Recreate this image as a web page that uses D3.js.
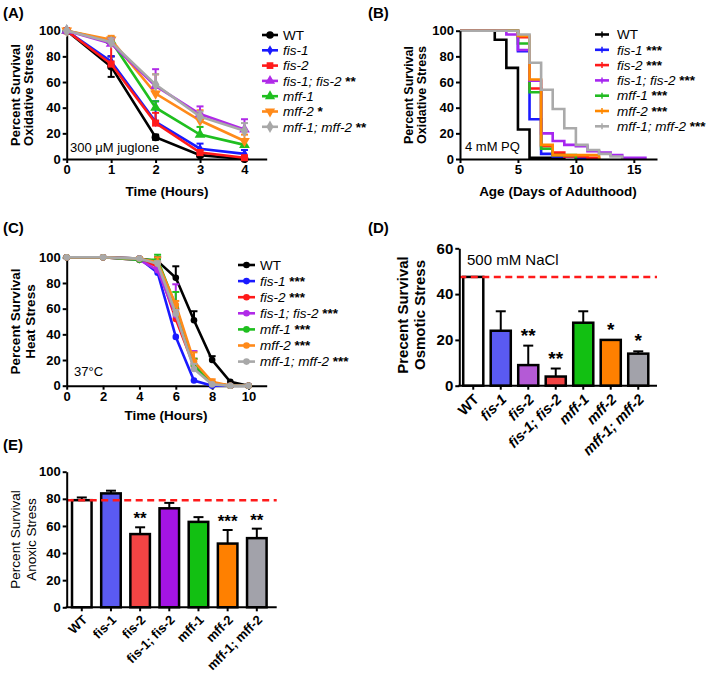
<!DOCTYPE html>
<html><head><meta charset="utf-8">
<script src="https://cdn.jsdelivr.net/npm/d3@7"></script>
<style>body{margin:0;background:#fff}svg text{font-family:"Liberation Sans",Arial,sans-serif;fill:#000}</style>
</head><body><svg id="c" width="709" height="677"></svg>
<script>
// ---------- data ----------
const genotypes = ["WT","fis-1","fis-2","fis-1; fis-2","mff-1","mff-2","mff-1; mff-2"];
// (A) juglone, time in hours
const aTimes = [0,1,2,3,4];
const aWT    = [100,72,17,3,0];      const aWTErr    = [0,8,2,1,0];
const aFis1  = [100,76,29,8,4];      const aFis1Err  = [0,4,16,4,3];
const aFis2  = [100,74,28,5,1];      const aFis2Err  = [0,19,8,2,1];
const aFis12 = [100,90,57,35,23];    const aFis12Err = [0,4,13,6,8];
const aMff1  = [100,92,40,19,11];    const aMff1Err  = [0,3,5,6,4];
const aMff2  = [100,93,51,30,14];    const aMff2Err  = [0,3,15,8,5];
const aMff12 = [100,91,58,33,22];    const aMff12Err = [0,3,8,4,6];
const aSig = ["","","","**","","*","**"];
// (B) paraquat survival curves: [day, percent alive]
const bWT    = [[0,100],[3,93],[4,71],[5,23],[6,1],[9,0]];
const bFis1  = [[0,100],[5,84],[6,31],[7,4],[8,2],[10,1],[11,0]];
const bFis2  = [[0,100],[5,95],[6,55],[7,10],[8,5],[9,2],[11,1],[12,0]];
const bFis12 = [[0,100],[4,97],[5,85],[6,61],[7,20],[8,14],[9,11],[10,10],[11,6],[12,5],[13,3],[14,1],[16,0]];
const bMff1  = [[0,100],[5,90],[6,52],[7,8],[8,3],[10,0]];
const bMff2  = [[0,100],[5,96],[6,62],[7,11],[8,3],[12,0]];
const bMff12 = [[0,100],[5,97],[6,75],[7,54],[8,39],[9,24],[10,11],[11,7],[12,4],[13,2],[14,0]];
const bSig = ["","***","***","***","***","***","***"];
// (C) heat 37C, time in hours
const cTimes = [0,2,4,5,6,7,8,9,10];
const cWT    = [100,100,99,97,84,51,20,3,0];  const cWTErr    = [0,0,0,3,9,7,3,0,0];
const cFis1  = [100,100,99,88,38,4,0,0,0];    const cFis1Err  = [0,0,0,2,0,0,0,0,0];
const cFis2  = [100,100,98,93,52,15,2,0,0];   const cFis2Err  = [0,0,0,3,8,6,1,0,0];
const cFis12 = [100,100,98,90,55,17,2,0,0];   const cFis12Err = [0,0,1,2,24,10,1,0,0];
const cMff1  = [100,100,98,98,62,16,2,0,0];   const cMff1Err  = [0,0,1,4,11,5,1,0,0];
const cMff2  = [100,100,99,96,63,19,3,0,0];   const cMff2Err  = [0,0,1,4,3,7,2,0,0];
const cMff12 = [100,100,99,95,56,13,1,0,0];   const cMff12Err = [0,0,0,2,3,4,0,0,0];
const cSig = ["","***","***","***","***","***","***"];
// (D) osmotic stress
const dVals = [47.5,24,9,4,27.5,20,14];
const dErr  = [0,8.5,8.5,3.5,5,0,1];
const dSig  = ["","","**","**","","*","*"];
const dRef  = 47.5;
// (E) anoxic stress
const eVals = [79,84,54,73,63,47,51];
const eErr  = [2,2,5,4,3.5,10,7];
const eSig  = ["","","**","","","***","**"];
const eRef  = 79;
const aTicksY = [0,20,40,60,80,100];
const bTicksX = [0,5,10,15];
const cTicksX = [0,2,4,6,8,10];
const dTicksY = [0,20,40,60];

// ---------- styles ----------
const lineColors = ["#000000","#1a1aff","#ff1a1a","#b02ae8","#1fbf1f","#ff8a1a","#a8a8a8"];
const bColors    = ["#000000","#1a1aff","#ff1a1a","#a626f0","#22bb22","#ff8800","#aaaaaa"];
const dColors    = ["#ffffff","#5a5af2","#b45ad6","#f24444","#12c012","#ff8000","#a2a2aa"];
const eColors    = ["#ffffff","#5a5af2","#f24444","#a414e4","#12c012","#ff8000","#a2a2aa"];
const symTypes = [d3.symbolCircle,d3.symbolDiamond,d3.symbolSquare,d3.symbolTriangle,d3.symbolTriangle,d3.symbolTriangle,d3.symbolDiamond];
const symRot = [0,0,0,0,0,180,0];

const svg = d3.select("#c");
const F = '"Liberation Sans",Arial,sans-serif';
const fmt = d3.format("d");

function styleAxis(g, fs, weight) {
  g.selectAll(".domain").attr("stroke","#000").attr("stroke-width",2);
  g.selectAll(".tick line").attr("stroke","#000").attr("stroke-width",2);
  g.selectAll(".tick text").attr("font-size",fs).attr("font-weight",weight||"bold").attr("font-family",F).attr("fill","#000");
}
function yTitle(lines, xs, cy, fs, weight) {
  lines.forEach((t,i)=>{
    svg.append("text").attr("transform",`translate(${xs[i]},${cy}) rotate(-90)`)
      .attr("text-anchor","middle").attr("font-size",fs).attr("font-weight",weight).text(t);
  });
}
function panelLabel(t,x,y){svg.append("text").attr("x",x).attr("y",y).attr("font-size",15).attr("font-weight","bold").text(t);}
function legendText(g, name, sig, x, y, fs) {
  const t = g.append("text").attr("x",x).attr("y",y).attr("dy","0.35em").attr("font-size",fs);
  t.append("tspan").attr("font-style", name==="WT"?"normal":"italic").text(name);
  if (sig) t.append("tspan").attr("font-weight","bold").text(" "+sig);
}

// ---------- (A) ----------
(function(){
  const x = d3.scaleLinear().domain([0,4.5]).range([66.7,266.7]);
  const y = d3.scaleLinear().domain([0,100]).range([159,30.7]);
  const gx = svg.append("g").attr("transform","translate(0,159)")
    .call(d3.axisBottom(x).tickValues(aTimes).tickFormat(fmt).tickSize(4).tickSizeOuter(0).tickPadding(2));
  styleAxis(gx,13);
  const gy = svg.append("g").attr("transform","translate(66.7,0)")
    .call(d3.axisLeft(y).tickValues(aTicksY).tickFormat(fmt).tickSize(4).tickSizeOuter(0).tickPadding(2));
  styleAxis(gy,13);
  const vals=[aWT,aFis1,aFis2,aFis12,aMff1,aMff2,aMff12];
  const errs=[aWTErr,aFis1Err,aFis2Err,aFis12Err,aMff1Err,aMff2Err,aMff12Err];
  const order=[0,1,2,4,5,3,6];
  const line=d3.line().x(d=>x(d[0])).y(d=>y(d[1]));
  order.forEach(i=>{
    const g=svg.append("g");
    const pts=aTimes.map((t,j)=>[t,vals[i][j],errs[i][j]]);
    pts.forEach(p=>{ if(p[2]>0){
      const lo = i===0 ? p[1]-p[2] : p[1];
      g.append("line").attr("x1",x(p[0])).attr("x2",x(p[0])).attr("y1",y(lo)).attr("y2",y(p[1]+p[2])).attr("stroke",lineColors[i]).attr("stroke-width",2);
      const caps = i===0 ? [p[1]+p[2],p[1]-p[2]] : [p[1]+p[2]];
      caps.forEach(v=>g.append("line").attr("x1",x(p[0])-3.5).attr("x2",x(p[0])+3.5).attr("y1",y(v)).attr("y2",y(v)).attr("stroke",lineColors[i]).attr("stroke-width",2));
    }});
    g.append("path").attr("d",line(pts)).attr("fill","none").attr("stroke",lineColors[i]).attr("stroke-width",2.6);
    pts.forEach(p=>g.append("path").attr("d",d3.symbol().type(symTypes[i]).size(i===1?30:50)())
      .attr("transform",`translate(${x(p[0])},${y(p[1])}) rotate(${symRot[i]})`).attr("fill",lineColors[i]));
  });
  svg.append("text").attr("x",70).attr("y",152).attr("font-size",13).text("300 \u03BCM juglone");
  svg.append("text").attr("x",167).attr("y",196).attr("text-anchor","middle").attr("font-size",13.5).attr("font-weight","bold").text("Time (Hours)");
  yTitle(["Percent Survival","Oxidative Stress"],[20,33],95,13,"bold");
  const lg=svg.append("g");
  genotypes.forEach((n,i)=>{
    const yy=35+i*15.3;
    lg.append("line").attr("x1",262).attr("x2",278).attr("y1",yy).attr("y2",yy).attr("stroke",lineColors[i]).attr("stroke-width",2.6);
    lg.append("path").attr("d",d3.symbol().type(symTypes[i]).size(i===1?30:45)()).attr("transform",`translate(270,${yy}) rotate(${symRot[i]})`).attr("fill",lineColors[i]);
    legendText(lg,n,aSig[i],283,yy,13.5);
  });
  panelLabel("(A)",3,18);
})();

// ---------- (B) ----------
(function(){
  const x = d3.scaleLinear().domain([0,17]).range([460,657]);
  const y = d3.scaleLinear().domain([0,100]).range([159,30.7]);
  const curves=[bWT,bFis1,bFis2,bFis12,bMff1,bMff2,bMff12];
  const line=d3.line().x(d=>x(d[0])).y(d=>y(d[1])).curve(d3.curveStepAfter);
  [0,1,2,4,3,5,6].forEach(i=>{
    svg.append("path").attr("d",line(curves[i])).attr("fill","none").attr("stroke",bColors[i]).attr("stroke-width",2.6);
  });
  const gx = svg.append("g").attr("transform","translate(0,159)")
    .call(d3.axisBottom(x).tickValues(bTicksX).tickFormat(fmt).tickSize(4).tickSizeOuter(0).tickPadding(2));
  styleAxis(gx,13);
  const gy = svg.append("g").attr("transform","translate(460,0)")
    .call(d3.axisLeft(y).tickValues(aTicksY).tickFormat(fmt).tickSize(4).tickSizeOuter(0).tickPadding(2));
  styleAxis(gy,13);
  svg.append("text").attr("x",465).attr("y",151).attr("font-size",13).text("4 mM PQ");
  svg.append("text").attr("x",558).attr("y",196).attr("text-anchor","middle").attr("font-size",13.5).attr("font-weight","bold").text("Age (Days of Adulthood)");
  yTitle(["Percent Survival","Oxidative Stress"],[413,426],95,12.5,"bold");
  const lg=svg.append("g");
  genotypes.forEach((n,i)=>{
    const yy=34.5+i*15.3;
    lg.append("line").attr("x1",595).attr("x2",609).attr("y1",yy).attr("y2",yy).attr("stroke",bColors[i]).attr("stroke-width",2.6);
    lg.append("line").attr("x1",602).attr("x2",602).attr("y1",yy-3).attr("y2",yy+3).attr("stroke",bColors[i]).attr("stroke-width",1.5);
    legendText(lg,n,bSig[i],617,yy,13.5);
  });
  panelLabel("(B)",368,18);
})();

// ---------- (C) ----------
(function(){
  const x = d3.scaleLinear().domain([0,11]).range([66.7,266.7]);
  const y = d3.scaleLinear().domain([0,100]).range([385.7,257.3]);
  const gx = svg.append("g").attr("transform","translate(0,385.7)")
    .call(d3.axisBottom(x).tickValues(cTicksX).tickFormat(fmt).tickSize(4).tickSizeOuter(0).tickPadding(2));
  styleAxis(gx,13);
  const gy = svg.append("g").attr("transform","translate(66.7,0)")
    .call(d3.axisLeft(y).tickValues(aTicksY).tickFormat(fmt).tickSize(4).tickSizeOuter(0).tickPadding(2));
  styleAxis(gy,13);
  const vals=[cWT,cFis1,cFis2,cFis12,cMff1,cMff2,cMff12];
  const errs=[cWTErr,cFis1Err,cFis2Err,cFis12Err,cMff1Err,cMff2Err,cMff12Err];
  const line=d3.line().x(d=>x(d[0])).y(d=>y(d[1]));
  [0,1,2,3,4,5,6].forEach(i=>{
    const g=svg.append("g");
    const pts=cTimes.map((t,j)=>[t,vals[i][j],errs[i][j]]);
    pts.forEach(p=>{ if(p[2]>0){
      g.append("line").attr("x1",x(p[0])).attr("x2",x(p[0])).attr("y1",y(p[1])).attr("y2",y(p[1]+p[2])).attr("stroke",lineColors[i]).attr("stroke-width",2);
      g.append("line").attr("x1",x(p[0])-3.5).attr("x2",x(p[0])+3.5).attr("y1",y(p[1]+p[2])).attr("y2",y(p[1]+p[2])).attr("stroke",lineColors[i]).attr("stroke-width",2);
    }});
    g.append("path").attr("d",line(pts)).attr("fill","none").attr("stroke",lineColors[i]).attr("stroke-width",2.6);
    pts.forEach(p=>g.append("circle").attr("cx",x(p[0])).attr("cy",y(p[1])).attr("r",3.3).attr("fill",lineColors[i]));
  });
  svg.append("text").attr("x",74).attr("y",376).attr("font-size",13).text("37\u00B0C");
  svg.append("text").attr("x",166).attr("y",420).attr("text-anchor","middle").attr("font-size",13.5).attr("font-weight","bold").text("Time (Hours)");
  yTitle(["Percent Survival","Heat Stress"],[20,35],321.5,13.5,"bold");
  const lg=svg.append("g");
  genotypes.forEach((n,i)=>{
    const yy=265+i*16.1;
    lg.append("line").attr("x1",238).attr("x2",255).attr("y1",yy).attr("y2",yy).attr("stroke",lineColors[i]).attr("stroke-width",2.6);
    lg.append("circle").attr("cx",246.5).attr("cy",yy).attr("r",3.3).attr("fill",lineColors[i]);
    legendText(lg,n,cSig[i],260,yy,13.5);
  });
  panelLabel("(C)",3,233);
})();

// ---------- bar panels ----------
function barPanel(o){
  const x = d3.scaleBand().domain(genotypes).range(o.xr).paddingInner(o.pin).paddingOuter(o.pin/2);
  const y = d3.scaleLinear().domain(o.yd).range(o.yr);
  const g = svg.append("g");
  genotypes.forEach((n,i)=>{
    const cx = x(n)+x.bandwidth()/2;
    if (o.err[i]>0){
      g.append("line").attr("x1",cx).attr("x2",cx).attr("y1",y(o.vals[i])).attr("y2",y(o.vals[i]+o.err[i])).attr("stroke","#000").attr("stroke-width",2);
      g.append("line").attr("x1",cx-5).attr("x2",cx+5).attr("y1",y(o.vals[i]+o.err[i])).attr("y2",y(o.vals[i]+o.err[i])).attr("stroke","#000").attr("stroke-width",2);
    }
    g.append("rect").attr("x",x(n)).attr("y",y(o.vals[i])).attr("width",x.bandwidth()).attr("height",y(0)-y(o.vals[i]))
      .attr("fill",o.colors[i]).attr("stroke","#000").attr("stroke-width",2.5);
    if (o.sig[i]) g.append("text").attr("x",cx).attr("y",y(o.vals[i]+o.err[i])-o.sigGap).attr("text-anchor","middle")
      .attr("font-size",o.sigFs).attr("font-weight","bold").text(o.sig[i]);
  });
  svg.append("line").attr("x1",o.xLine[0]).attr("x2",o.xLine[1]).attr("y1",y(o.ref)).attr("y2",y(o.ref))
    .attr("stroke","#ff1a1a").attr("stroke-width",2.5).attr("stroke-dasharray","7,4.5");
  const gx = svg.append("g").attr("transform",`translate(0,${o.yr[0]})`)
    .call(d3.axisBottom(x).tickSize(4).tickSizeOuter(0).tickFormat(""));
  gx.select(".domain").remove();
  gx.selectAll(".tick line").attr("stroke","#000").attr("stroke-width",2);
  svg.append("line").attr("x1",o.xLine[0]-1).attr("x2",o.xLine[1]).attr("y1",o.yr[0]).attr("y2",o.yr[0]).attr("stroke","#000").attr("stroke-width",2);
  genotypes.forEach(n=>{
    const cx = x(n)+x.bandwidth()/2;
    svg.append("text").attr("transform",`translate(${cx+o.lblDx},${o.yr[0]+o.lblDy}) rotate(-45)`)
      .attr("text-anchor","end").attr("dy","0.35em").attr("font-size",o.lblFs).attr("font-weight","bold")
      .attr("font-style",(o.italic && n!=="WT")?"italic":"normal").text(n);
  });
  const gy = svg.append("g").attr("transform",`translate(${o.xLine[0]},0)`)
    .call(d3.axisLeft(y).tickValues(o.yticks).tickFormat(fmt).tickSize(4).tickSizeOuter(0).tickPadding(2));
  styleAxis(gy,o.tickFs);
}

// (D)
barPanel({xr:[459.5,652],pin:0.27,yd:[0,60],yr:[385.7,248.3],vals:dVals,err:dErr,sig:dSig,colors:dColors,ref:dRef,
  xLine:[459.3,657],yticks:dTicksY,tickFs:15,lblFs:14.5,lblDx:3,lblDy:11,italic:true,sigFs:19,sigGap:4});
svg.append("text").attr("x",467).attr("y",265).attr("font-size",15).text("500 mM NaCl");
yTitle(["Precent Survival","Osmotic Stress"],[408,425],315,15,"bold");
panelLabel("(D)",368,233);

// (E)
barPanel({xr:[67.2,271.4],pin:0.33,yd:[0,100],yr:[607.3,471.7],vals:eVals,err:eErr,sig:eSig,colors:eColors,ref:eRef,
  xLine:[66.7,276.7],yticks:aTicksY,tickFs:13,lblFs:13,lblDx:3,lblDy:10,italic:false,sigFs:17,sigGap:3});
yTitle(["Percent Survival","Anoxic Stress"],[20,36],539.5,13.5,"normal");
panelLabel("(E)",3,450);
</script></body></html>
